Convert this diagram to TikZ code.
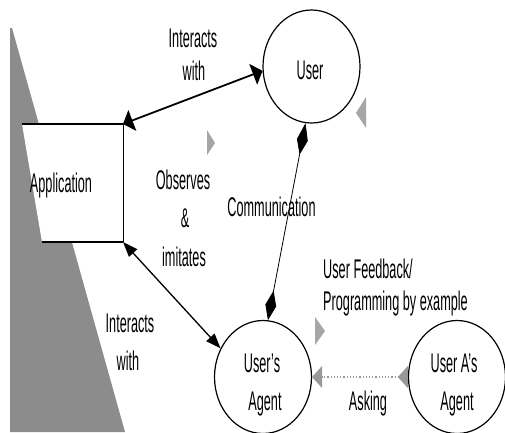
\documentclass[tikz,border=0pt]{standalone}
\usepackage{fontspec}
\setmainfont{Liberation Sans}[FakeStretch=0.47]
\usetikzlibrary{arrows.meta,shapes.geometric}
\begin{document}
\begin{tikzpicture}[x=1pt,y=-1pt,
  lbl/.style={font=\fontsize{27}{27}\selectfont, inner sep=0pt, anchor=base},
  bubble/.style={ellipse, draw, line width=1.2pt, minimum width=97pt, minimum height=113pt, inner sep=0pt},
  shade/.style={fill=black!45, draw=none},
  ghost/.style={fill=black!35, draw=none},
  boxedge/.style={line width=1.6pt},
  linkupper/.style={line width=1.8pt, {Triangle[length=10pt,width=22pt]}-{Triangle[length=10pt,width=22pt]}},
  linklower/.style={line width=1.3pt, {Triangle[length=15pt,width=11pt]}-{Triangle[length=15pt,width=11pt]}},
  linkcomm/.style={line width=0.8pt, {Kite[length=32pt,width=11pt,inset=15pt]}-{Kite[length=30pt,width=11pt,inset=15pt]}},
  linkask/.style={black!40, line width=1.2pt, dotted, {Triangle[reversed,length=10pt,width=22pt]}-{Triangle[length=10pt,width=22pt]}}
]
\useasboundingbox (0,0) rectangle (505,432);
\clip (0,0) rectangle (505,432);
\fill[white] (0,0) rectangle (505,432);

% shaded wedge
\fill[shade] (10,28) -- (12,28) -- (125,432) -- (10,432) -- cycle;

% application box
\fill[white] (22,124) -- (123,124) -- (123,242) -- (42,242) -- cycle;
\coordinate (appNW) at (22,124);
\coordinate (appNE) at (123,124);
\coordinate (appSE) at (123,242);
\coordinate (appSW) at (42,242);
\draw[boxedge] (appNW) -- (appNE);
\draw[line width=1pt] (appNE) -- (appSE);
\draw[boxedge] (appSE) -- (appSW);
\node[lbl] (app) at (61,192) {Application};

% bubbles
\node[bubble] (user) at (311.5,66.5) {};
\node[bubble] (agent) at (263,377) {};
\node[bubble] (agentA) at (457,377) {};
\node[lbl] (tuser) at (310,79) {User};
\node[lbl] (tagent1) at (262,372) {User's};
\node[lbl] (tagent2) at (265,410) {Agent};
\node[lbl] (tagentA1) at (454,372) {User A's};
\node[lbl] (tagentA2) at (457,410) {Agent};

% connectors
\draw[linkupper] (appNE) -- (user.185);
\draw[linklower] (appSE) -- (agent.146);
\draw[linkcomm] (user.264) -- (agent.85);
\draw[linkask] (agentA.west) -- (agent.east);

% floating markers
\fill[ghost] (207,130) -- (215,143) -- (207,155) -- cycle;
\fill[ghost] (366,97) -- (356,113) -- (366,128) -- cycle;
\fill[ghost] (315,317) -- (325,331) -- (315,345) -- cycle;

% labels
\node[lbl] (l1) at (193,47) {Interacts};
\node[lbl] (l2) at (194,80) {with};
\node[lbl] (l3) at (183,189) {Observes};
\node[lbl] (l4) at (185,227) {\&};
\node[lbl] (l5) at (184,266) {imitates};
\node[lbl] (l6) at (130,332) {Interacts};
\node[lbl] (l7) at (128,370) {with};
\node[lbl] (l8) at (271.5,216) {Communication};
\node[lbl, anchor=base west] (l9) at (323,278) {User Feedback/};
\node[lbl, anchor=base west] (l10) at (323,310) {Programming by example};
\node[lbl] (l11) at (368,410) {Asking};
\end{tikzpicture}
\end{document}
